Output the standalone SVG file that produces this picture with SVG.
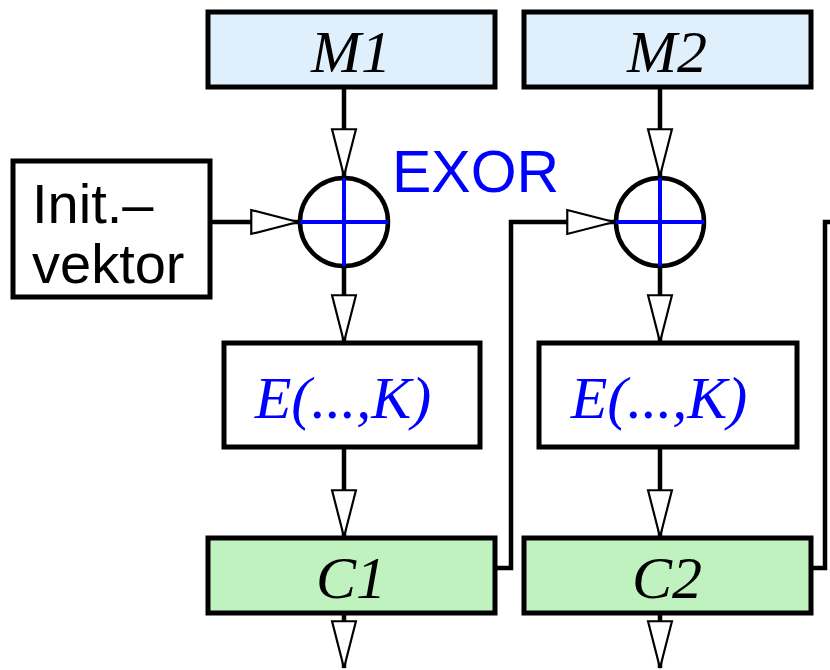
<svg xmlns="http://www.w3.org/2000/svg" width="830" height="670" viewBox="0 0 830 670">
<defs>
<style>
.box{stroke:#000;stroke-width:5}
.m{fill:#dff0fc}
.c{fill:#c0f2c0}
.w{fill:#fff}
.ln{fill:none;stroke:#000;stroke-width:4.5}
.ah{fill:#fff;stroke:#000;stroke-width:2}
.x{stroke:#0000ff;stroke-width:4}
.it{font-family:"Liberation Serif",serif;font-style:italic;font-size:60px;text-anchor:middle}
.ss{font-family:"Liberation Sans",Arial,sans-serif}
</style>
<marker id="arr" markerUnits="userSpaceOnUse" markerWidth="50" markerHeight="30" viewBox="-44 -13 46 26" refX="0" refY="0" orient="auto">
<path d="M-43,-11 L0,0 L-43,11 Z" class="ah"/>
</marker>
</defs>
<g id="connectors">
<path class="ln" d="M344,88 V176" marker-end="url(#arr)"/>
<path class="ln" d="M211,222 H298" marker-end="url(#arr)"/>
<path class="ln" d="M344,267 V342" marker-end="url(#arr)"/>
<path class="ln" d="M344,448 V537" marker-end="url(#arr)"/>
<path class="ln" d="M344,614 V668" marker-end="url(#arr)"/>
<path class="ln" d="M660,88 V176" marker-end="url(#arr)"/>
<path class="ln" d="M496,568 H511 V222 H614" marker-end="url(#arr)"/>
<path class="ln" d="M660,267 V342" marker-end="url(#arr)"/>
<path class="ln" d="M660,448 V537" marker-end="url(#arr)"/>
<path class="ln" d="M660,614 V668" marker-end="url(#arr)"/>
<path class="ln" d="M812,568 H825 V222 H840"/>
</g>
<g id="m1"><rect class="box m" x="208" y="12" width="287" height="75"/><text class="it" x="351" y="72">M1</text></g>
<g id="m2"><rect class="box m" x="524" y="12" width="287" height="75"/><text class="it" x="667" y="72">M2</text></g>
<g id="init"><rect class="box w" x="13" y="161" width="197" height="136"/><text class="ss" font-size="56" x="32" y="223">Init.–</text><text class="ss" font-size="56" x="32" y="283">vektor</text></g>
<g id="xor1"><circle cx="344" cy="222" r="44" fill="#fff" stroke="#000" stroke-width="4.5"/><path class="x" d="M300,222 H388 M344,178 V266"/></g>
<g id="xor2"><circle cx="660" cy="222" r="44" fill="#fff" stroke="#000" stroke-width="4.5"/><path class="x" d="M616,222 H704 M660,178 V266"/></g>
<g id="exor-label"><text class="ss" font-size="59" fill="#0000ff" x="392" y="192">EXOR</text></g>
<g id="e1"><rect class="box w" x="224" y="343" width="256" height="104"/><text class="it" font-size="58" fill="#0000ff" x="343" y="418">E(...,K)</text></g>
<g id="e2"><rect class="box w" x="539" y="343" width="258" height="104"/><text class="it" font-size="58" fill="#0000ff" x="659" y="418">E(...,K)</text></g>
<g id="c1"><rect class="box c" x="208" y="538" width="287" height="75"/><text class="it" x="351" y="598">C1</text></g>
<g id="c2"><rect class="box c" x="524" y="538" width="287" height="75"/><text class="it" x="667" y="598">C2</text></g>
</svg>
